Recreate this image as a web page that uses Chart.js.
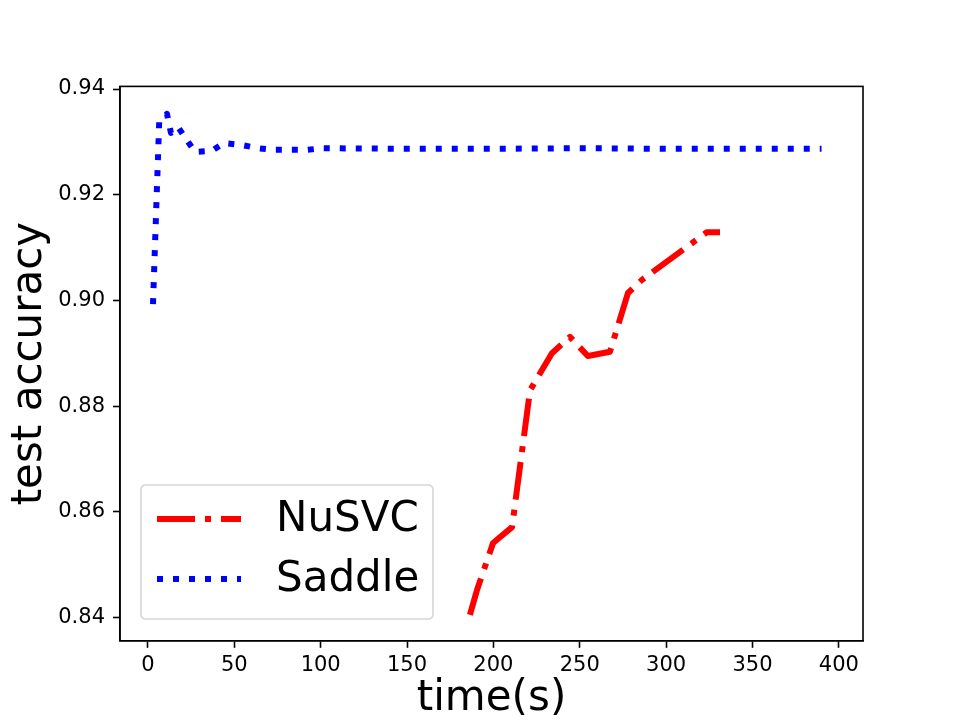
<!DOCTYPE html>
<html>
<head>
<meta charset="utf-8">
<script src="https://cdn.jsdelivr.net/npm/chart.js@4/dist/chart.umd.min.js"></script>
<style>
    html, body { margin: 0; padding: 0; background: #fff; }
    #wrap { width: 960px; height: 720px; }
</style>
</head>
<body>
<div id="wrap"><canvas id="accChart" width="960" height="720"></canvas></div>
<script>
const nusvcTime = [186.4, 190.5, 199.8, 210.8, 221.2, 233.9, 244.3, 254.7, 267.5, 277.9, 286.0, 323.6, 331.2];
const nusvcAcc = [0.8405, 0.8452, 0.8541, 0.8571, 0.8830, 0.8900, 0.8931, 0.8895, 0.8903, 0.9014, 0.9039, 0.9129, 0.9129];

const saddleTime = [2.9, 6.5, 11.0, 13.3, 17.4, 27.2, 37.0, 44.0, 54.4, 63.7, 73.0, 82.8, 92.0, 101.0, 150, 200, 250, 300, 350, 390];
const saddleAcc = [0.8993, 0.9338, 0.9353, 0.9317, 0.9328, 0.9281, 0.9283, 0.9298, 0.9294, 0.9288, 0.9285, 0.9285, 0.9285, 0.9288, 0.9287, 0.9287, 0.9288, 0.9287, 0.9287, 0.9287];

const xTicks = [0, 50, 100, 150, 200, 250, 300, 350, 400];
const yTicks = [0.84, 0.86, 0.88, 0.90, 0.92, 0.94];

const FONT = "'DejaVu Sans', sans-serif";

function toPoints(xs, ys) {
    return xs.map((x, i) => ({ x: x, y: ys[i] }));
}

// box round the plot area + legend in the lower left, matplotlib style
const framePlugin = {
    id: 'frame',
    afterDatasetsDraw(chart) {
        const ctx = chart.ctx;
        const a = chart.chartArea;
        ctx.save();
        ctx.strokeStyle = '#000';
        ctx.lineWidth = 1.6;
        ctx.strokeRect(a.left, a.top, a.right - a.left, a.bottom - a.top);

        // legend
        const bx = 141, by = 485, bw = 292, bh = 134, r = 5;
        ctx.beginPath();
        ctx.moveTo(bx + r, by);
        ctx.lineTo(bx + bw - r, by);
        ctx.quadraticCurveTo(bx + bw, by, bx + bw, by + r);
        ctx.lineTo(bx + bw, by + bh - r);
        ctx.quadraticCurveTo(bx + bw, by + bh, bx + bw - r, by + bh);
        ctx.lineTo(bx + r, by + bh);
        ctx.quadraticCurveTo(bx, by + bh, bx, by + bh - r);
        ctx.lineTo(bx, by + r);
        ctx.quadraticCurveTo(bx, by, bx + r, by);
        ctx.closePath();
        ctx.fillStyle = 'rgba(255,255,255,0.8)';
        ctx.fill();
        ctx.strokeStyle = 'rgba(204,204,204,0.8)';
        ctx.lineWidth = 1.6;
        ctx.stroke();

        const rows = [519, 579];
        chart.data.datasets.forEach((ds, i) => {
            const y = rows[i];
            ctx.beginPath();
            ctx.setLineDash(ds.borderDash);
            ctx.lineCap = 'butt';
            ctx.strokeStyle = ds.borderColor;
            ctx.lineWidth = ds.borderWidth;
            ctx.moveTo(157, y);
            ctx.lineTo(241, y);
            ctx.stroke();
            ctx.setLineDash([]);
            ctx.fillStyle = '#000';
            ctx.font = '42px ' + FONT;
            ctx.textBaseline = 'middle';
            ctx.textAlign = 'left';
            ctx.fillText(ds.label, 276, y + 1);
        });
        ctx.restore();
    }
};

const ctx = document.getElementById('accChart').getContext('2d');
new Chart(ctx, {
    type: 'line',
    data: {
        datasets: [
            {
                label: 'NuSVC',
                data: toPoints(nusvcTime, nusvcAcc),
                borderColor: '#ff0000',
                borderWidth: 6,
                borderDash: [38, 10, 6, 10],
                borderCapStyle: 'butt',
                borderJoinStyle: 'round',
                pointRadius: 0,
                tension: 0,
                fill: false
            },
            {
                label: 'Saddle',
                data: toPoints(saddleTime, saddleAcc),
                borderColor: '#0000ff',
                borderWidth: 6,
                borderDash: [6, 10],
                borderCapStyle: 'butt',
                borderJoinStyle: 'round',
                pointRadius: 0,
                tension: 0,
                fill: false
            }
        ]
    },
    options: {
        responsive: false,
        animation: false,
        layout: { padding: { top: 86.4, right: 97, left: 0, bottom: 0 } },
        plugins: {
            legend: { display: false },
            tooltip: { enabled: false }
        },
        scales: {
            x: {
                type: 'linear',
                min: -16.2,
                max: 414,
                afterBuildTicks: (s) => { s.ticks = xTicks.map(v => ({ value: v })); },
                afterFit: (s) => { s.height = 720 - 640.8; },
                ticks: {
                    color: '#000',
                    font: { family: FONT, size: 21 },
                    padding: 5,
                    maxRotation: 0,
                    callback: (v) => String(v)
                },
                grid: {
                    drawOnChartArea: false,
                    drawTicks: true,
                    tickLength: 7,
                    tickWidth: 1.6,
                    tickColor: '#000'
                },
                border: { display: true, color: '#000', width: 1.6 },
                title: {
                    display: true,
                    text: 'time(s)',
                    color: '#000',
                    font: { family: FONT, size: 42, lineHeight: 1 },
                    padding: { top: 0, bottom: 0 }
                }
            },
            y: {
                type: 'linear',
                min: 0.8356,
                max: 0.9405,
                afterBuildTicks: (s) => { s.ticks = yTicks.map(v => ({ value: v })); },
                afterFit: (s) => { s.width = 120; },
                ticks: {
                    color: '#000',
                    font: { family: FONT, size: 21 },
                    padding: 8,
                    callback: (v) => v.toFixed(2)
                },
                grid: {
                    drawOnChartArea: false,
                    drawTicks: true,
                    tickLength: 7,
                    tickWidth: 1.6,
                    tickColor: '#000'
                },
                border: { display: true, color: '#000', width: 1.6 },
                title: {
                    display: true,
                    text: 'test accuracy',
                    color: '#000',
                    font: { family: FONT, size: 42, lineHeight: 1 },
                    padding: { top: 9, bottom: 0 }
                }
            }
        }
    },
    plugins: [framePlugin]
});
</script>
</body>
</html>
